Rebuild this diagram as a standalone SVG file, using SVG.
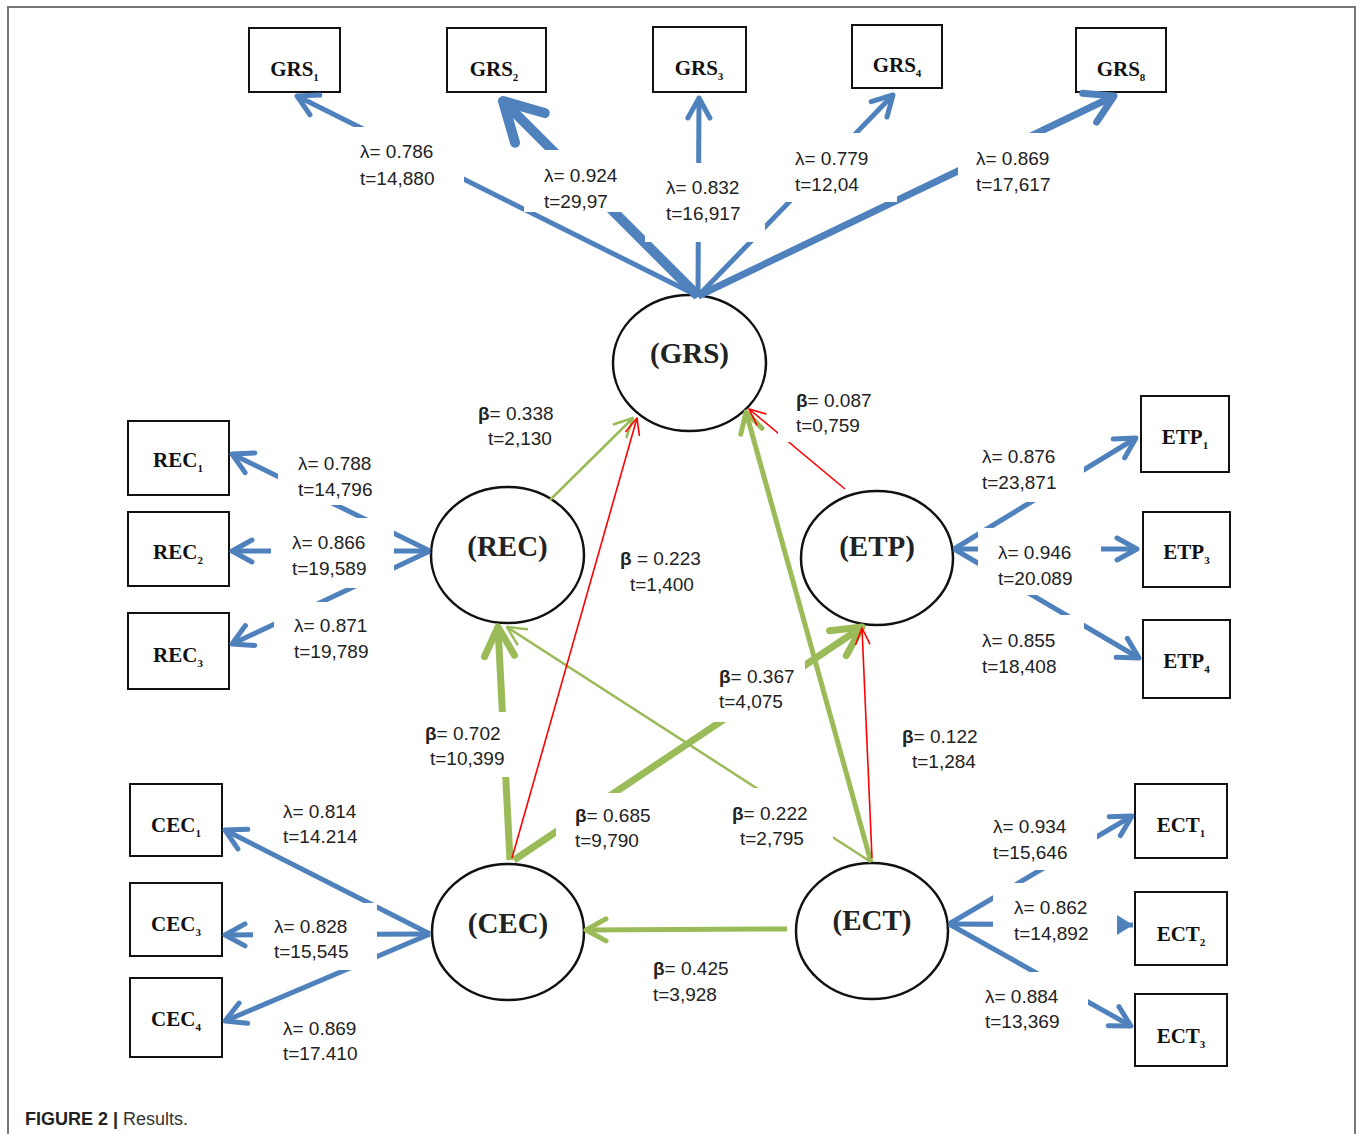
<svg xmlns="http://www.w3.org/2000/svg" width="1357" height="1134" viewBox="0 0 1357 1134">
<style>
.box{fill:#fff;stroke:#111;stroke-width:2}
.lat{fill:#fff;stroke:#111;stroke-width:2.5}
.bt{font-family:"Liberation Serif","Times New Roman",serif;font-weight:bold;font-size:21px;fill:#111;text-anchor:middle}
.bt .s{font-size:11px}
.lt{font-family:"Liberation Serif","Times New Roman",serif;font-weight:bold;font-size:29px;fill:#222;text-anchor:middle}
.lb{fill:none;stroke:#4F81BD}
.lg{fill:none;stroke:#9BBB59}
.lr{fill:none;stroke:#FF0000;stroke-width:1.6}
.bg{fill:#fff}
.tx{font-family:"Liberation Sans",Arial,sans-serif;font-size:19px;fill:#222}
.tx .b{font-weight:bold}
.cap{font-family:"Liberation Sans",Arial,sans-serif;font-size:18px;fill:#333}
</style>
<defs>
<marker id="aB5" markerUnits="userSpaceOnUse" viewBox="-30 -20 40 40" markerWidth="40" markerHeight="40" refX="0" refY="0" orient="auto" overflow="visible">
<path d="M-20,-11 L0,0 L-20,11" fill="none" stroke="#4F81BD" stroke-width="5" stroke-linecap="round" stroke-linejoin="round"/>
</marker>
<marker id="aB8" markerUnits="userSpaceOnUse" viewBox="-40 -25 50 50" markerWidth="50" markerHeight="50" refX="0" refY="0" orient="auto" overflow="visible">
<path d="M-27,-16 L0,0 L-27,16" fill="none" stroke="#4F81BD" stroke-width="7" stroke-linecap="round" stroke-linejoin="round"/>
</marker>
<marker id="aB10" markerUnits="userSpaceOnUse" viewBox="-50 -30 60 60" markerWidth="60" markerHeight="60" refX="0" refY="0" orient="auto" overflow="visible">
<path d="M-38,-21 L0,0 L-38,21" fill="none" stroke="#4F81BD" stroke-width="10" stroke-linecap="round" stroke-linejoin="round"/>
</marker>
<marker id="aBf" markerUnits="userSpaceOnUse" viewBox="-20 -12 24 24" markerWidth="24" markerHeight="24" refX="0" refY="0" orient="auto" overflow="visible">
<path d="M-16,-10 L0,0 L-16,10 Z" fill="#4F81BD"/>
</marker>
<marker id="aG7" markerUnits="userSpaceOnUse" viewBox="-40 -20 50 40" markerWidth="50" markerHeight="40" refX="0" refY="0" orient="auto" overflow="visible">
<path d="M-29,-15 L0,0 L-29,15" fill="none" stroke="#9BBB59" stroke-width="7" stroke-linecap="round" stroke-linejoin="round"/>
</marker>
<marker id="aG5" markerUnits="userSpaceOnUse" viewBox="-30 -15 40 30" markerWidth="40" markerHeight="30" refX="0" refY="0" orient="auto" overflow="visible">
<path d="M-20,-11 L0,0 L-20,11" fill="none" stroke="#9BBB59" stroke-width="5" stroke-linecap="round" stroke-linejoin="round"/>
</marker>
<marker id="aG2" markerUnits="userSpaceOnUse" viewBox="-25 -12 30 24" markerWidth="30" markerHeight="24" refX="0" refY="0" orient="auto" overflow="visible">
<path d="M-18,-9 L0,0 L-18,9" fill="none" stroke="#9BBB59" stroke-width="2.5" stroke-linecap="round" stroke-linejoin="round"/>
</marker>
<marker id="aR" markerUnits="userSpaceOnUse" viewBox="-20 -10 24 20" markerWidth="24" markerHeight="20" refX="0" refY="0" orient="auto" overflow="visible">
<path d="M-16,-7 L0,0 L-16,7" fill="none" stroke="#FF0000" stroke-width="1.6" stroke-linecap="round" stroke-linejoin="round"/>
</marker>
</defs>

<rect width="1357" height="1134" fill="#fff"/>
<path d="M8,1134 V7 H1355 V1134" fill="none" stroke="#777" stroke-width="2"/>

<g id="nodes">
<g id="GRS1"><rect class="box" x="249" y="28" width="91" height="64"/><text class="bt" x="294.5" y="76">GRS<tspan class="s" dy="5">1</tspan></text></g>
<g id="GRS2"><rect class="box" x="447" y="28" width="99" height="64"/><text class="bt" x="494" y="76">GRS<tspan class="s" dy="5">2</tspan></text></g>
<g id="GRS3"><rect class="box" x="653" y="27" width="93" height="65"/><text class="bt" x="699" y="75">GRS<tspan class="s" dy="5">3</tspan></text></g>
<g id="GRS4"><rect class="box" x="852" y="25" width="90" height="63"/><text class="bt" x="897" y="72">GRS<tspan class="s" dy="5">4</tspan></text></g>
<g id="GRS8"><rect class="box" x="1076" y="28" width="90" height="64"/><text class="bt" x="1121" y="76">GRS<tspan class="s" dy="5">8</tspan></text></g>
<g id="REC1"><rect class="box" x="128" y="421" width="101" height="74"/><text class="bt" x="178" y="467">REC<tspan class="s" dy="5">1</tspan></text></g>
<g id="REC2"><rect class="box" x="128" y="512" width="101" height="74"/><text class="bt" x="178" y="559">REC<tspan class="s" dy="5">2</tspan></text></g>
<g id="REC3"><rect class="box" x="128" y="613" width="101" height="76"/><text class="bt" x="178" y="662">REC<tspan class="s" dy="5">3</tspan></text></g>
<g id="CEC1"><rect class="box" x="130" y="784" width="92" height="72"/><text class="bt" x="176" y="832">CEC<tspan class="s" dy="5">1</tspan></text></g>
<g id="CEC3"><rect class="box" x="130" y="883" width="92" height="73"/><text class="bt" x="176" y="931">CEC<tspan class="s" dy="5">3</tspan></text></g>
<g id="CEC4"><rect class="box" x="130" y="978" width="92" height="79"/><text class="bt" x="176" y="1026">CEC<tspan class="s" dy="5">4</tspan></text></g>
<g id="ETP1"><rect class="box" x="1141" y="396" width="88" height="76"/><text class="bt" x="1185" y="444">ETP<tspan class="s" dy="5">1</tspan></text></g>
<g id="ETP3"><rect class="box" x="1143" y="512" width="87" height="75"/><text class="bt" x="1186.5" y="559">ETP<tspan class="s" dy="5">3</tspan></text></g>
<g id="ETP4"><rect class="box" x="1143" y="620" width="87" height="78"/><text class="bt" x="1186.5" y="668">ETP<tspan class="s" dy="5">4</tspan></text></g>
<g id="ECT1"><rect class="box" x="1135" y="784" width="92" height="74"/><text class="bt" x="1181" y="832">ECT<tspan class="s" dy="5">1</tspan></text></g>
<g id="ECT2"><rect class="box" x="1135" y="892" width="92" height="73"/><text class="bt" x="1181" y="941">ECT<tspan class="s" dy="5">2</tspan></text></g>
<g id="ECT3"><rect class="box" x="1135" y="994" width="92" height="72"/><text class="bt" x="1181" y="1043">ECT<tspan class="s" dy="5">3</tspan></text></g>
<g id="GRS"><ellipse class="lat" cx="689.5" cy="363" rx="76.5" ry="68"/><text class="lt" x="689.5" y="363">(GRS)</text></g>
<g id="REC"><ellipse class="lat" cx="507.5" cy="555" rx="76.5" ry="68"/><text class="lt" x="507.5" y="556">(REC)</text></g>
<g id="ETP"><ellipse class="lat" cx="877" cy="558" rx="76" ry="67"/><text class="lt" x="877" y="556">(ETP)</text></g>
<g id="CEC"><ellipse class="lat" cx="508" cy="932" rx="76" ry="68"/><text class="lt" x="508" y="933">(CEC)</text></g>
<g id="ECT"><ellipse class="lat" cx="872" cy="931" rx="76" ry="68"/><text class="lt" x="872" y="930">(ECT)</text></g>
</g>

<g id="connectors">
<line class="lb" stroke-width="5" x1="698" y1="296" x2="297" y2="96" marker-end="url(#aB5)"/>
<line class="lb" stroke-width="10" x1="698" y1="296" x2="503" y2="101" marker-end="url(#aB10)"/>
<line class="lb" stroke-width="5" x1="698" y1="296" x2="699" y2="98" marker-end="url(#aB5)"/>
<line class="lb" stroke-width="5" x1="698" y1="296" x2="893" y2="95" marker-end="url(#aB5)"/>
<line class="lb" stroke-width="7" x1="698" y1="296" x2="1114" y2="96" marker-end="url(#aB8)"/>
<line class="lb" stroke-width="5" x1="430" y1="551" x2="232" y2="454" marker-end="url(#aB5)"/>
<line class="lb" stroke-width="5" x1="430" y1="551" x2="232" y2="551" marker-end="url(#aB5)"/>
<line class="lb" stroke-width="5" x1="430" y1="551" x2="232" y2="644" marker-end="url(#aB5)"/>
<line class="lb" stroke-width="5" x1="954" y1="549" x2="1136" y2="438" marker-end="url(#aB5)"/>
<line class="lb" stroke-width="5" x1="954" y1="549" x2="1137" y2="549" marker-end="url(#aB5)"/>
<line class="lb" stroke-width="5" x1="954" y1="549" x2="1139" y2="658" marker-end="url(#aB5)"/>
<line class="lb" stroke-width="5" x1="430" y1="934" x2="225" y2="830" marker-end="url(#aB5)"/>
<line class="lb" stroke-width="5" x1="430" y1="934" x2="225" y2="935" marker-end="url(#aB5)"/>
<line class="lb" stroke-width="5" x1="430" y1="934" x2="225" y2="1021" marker-end="url(#aB5)"/>
<line class="lb" stroke-width="5" x1="949" y1="924" x2="1132" y2="816" marker-end="url(#aB5)"/>
<line class="lb" stroke-width="5" x1="949" y1="924" x2="1133" y2="925" marker-end="url(#aBf)"/>
<line class="lb" stroke-width="5" x1="949" y1="924" x2="1131" y2="1026" marker-end="url(#aB5)"/>
<line class="lg" stroke-width="2.5" x1="550" y1="500" x2="633" y2="418" marker-end="url(#aG2)"/>
<line class="lg" stroke-width="7" x1="510" y1="860" x2="498" y2="627" marker-end="url(#aG7)"/>
<line class="lg" stroke-width="7" x1="514" y1="860" x2="862" y2="627" marker-end="url(#aG7)"/>
<line class="lg" stroke-width="5" x1="871" y1="862" x2="746" y2="412" marker-end="url(#aG5)"/>
<line class="lg" stroke-width="2.5" x1="871" y1="862" x2="507" y2="627" marker-end="url(#aG2)"/>
<line class="lg" stroke-width="5" x1="787" y1="929" x2="586" y2="930" marker-end="url(#aG5)"/>
<line class="lr" x1="512" y1="858" x2="637" y2="418" marker-end="url(#aR)"/>
<line class="lr" x1="845" y1="489" x2="749" y2="409" marker-end="url(#aR)"/>
<line class="lr" x1="872" y1="858" x2="862" y2="628" marker-end="url(#aR)"/>
</g>

<g id="labels">
<g><rect class="bg" x="340" y="127" width="124" height="73"/><text class="tx" x="360" y="158">λ= 0.786</text><text class="tx" x="360" y="185">t=14,880</text></g>
<g><rect class="bg" x="524" y="150" width="121" height="62"/><text class="tx" x="544" y="182">λ= 0.924</text><text class="tx" x="544" y="208">t=29,97</text></g>
<g><rect class="bg" x="645" y="163" width="120" height="79"/><text class="tx" x="666" y="194">λ= 0.832</text><text class="tx" x="666" y="220">t=16,917</text></g>
<g><rect class="bg" x="765" y="133" width="132" height="69"/><text class="tx" x="795" y="165">λ= 0.779</text><text class="tx" x="795" y="191">t=12,04</text></g>
<g><rect class="bg" x="958" y="133" width="127" height="72"/><text class="tx" x="976" y="165">λ= 0.869</text><text class="tx" x="976" y="191">t=17,617</text></g>
<g><rect class="bg" x="278" y="440" width="117" height="65"/><text class="tx" x="298" y="470">λ= 0.788</text><text class="tx" x="298" y="496">t=14,796</text></g>
<g><rect class="bg" x="271" y="518" width="123" height="70"/><text class="tx" x="292" y="549">λ= 0.866</text><text class="tx" x="292" y="575">t=19,589</text></g>
<g><rect class="bg" x="274" y="602" width="121" height="66"/><text class="tx" x="294" y="632">λ= 0.871</text><text class="tx" x="294" y="658">t=19,789</text></g>
<g><rect class="bg" x="962" y="440" width="122" height="62"/><text class="tx" x="982" y="463">λ= 0.876</text><text class="tx" x="982" y="489">t=23,871</text></g>
<g><rect class="bg" x="978" y="528" width="123" height="67"/><text class="tx" x="998" y="559">λ= 0.946</text><text class="tx" x="998" y="585">t=20.089</text></g>
<g><rect class="bg" x="962" y="615" width="122" height="65"/><text class="tx" x="982" y="647">λ= 0.855</text><text class="tx" x="982" y="673">t=18,408</text></g>
<g><text class="tx" x="283" y="818">λ= 0.814</text><text class="tx" x="283" y="843">t=14.214</text></g>
<g><rect class="bg" x="253" y="903" width="124" height="67"/><text class="tx" x="274" y="933">λ= 0.828</text><text class="tx" x="274" y="958">t=15,545</text></g>
<g><text class="tx" x="283" y="1035">λ= 0.869</text><text class="tx" x="283" y="1060">t=17.410</text></g>
<g><rect class="bg" x="985" y="800" width="112" height="70"/><text class="tx" x="993" y="833">λ= 0.934</text><text class="tx" x="993" y="859">t=15,646</text></g>
<g><rect class="bg" x="993" y="883" width="124" height="63"/><text class="tx" x="1014" y="914">λ= 0.862</text><text class="tx" x="1014" y="940">t=14,892</text></g>
<g><rect class="bg" x="975" y="972" width="113" height="68"/><text class="tx" x="985" y="1003">λ= 0.884</text><text class="tx" x="985" y="1028">t=13,369</text></g>
<g><text class="tx" x="478" y="420"><tspan class="b">β</tspan>= 0.338</text><text class="tx" x="488" y="445">t=2,130</text></g>
<g><rect class="bg" x="778" y="385" width="97" height="57"/><text class="tx" x="796" y="407"><tspan class="b">β</tspan>= 0.087</text><text class="tx" x="796" y="432">t=0,759</text></g>
<g><text class="tx" x="620" y="565"><tspan class="b">β</tspan> = 0.223</text><text class="tx" x="630" y="591">t=1,400</text></g>
<g><rect class="bg" x="418" y="712" width="94" height="65"/><text class="tx" x="425" y="740"><tspan class="b">β</tspan>= 0.702</text><text class="tx" x="430" y="765">t=10,399</text></g>
<g><rect class="bg" x="712" y="660" width="93" height="62"/><text class="tx" x="719" y="683"><tspan class="b">β</tspan>= 0.367</text><text class="tx" x="719" y="708">t=4,075</text></g>
<g><rect class="bg" x="556" y="793" width="99" height="67"/><text class="tx" x="575" y="822"><tspan class="b">β</tspan>= 0.685</text><text class="tx" x="575" y="847">t=9,790</text></g>
<g><rect class="bg" x="730" y="788" width="103" height="64"/><text class="tx" x="732" y="820"><tspan class="b">β</tspan>= 0.222</text><text class="tx" x="740" y="845">t=2,795</text></g>
<g><text class="tx" x="902" y="743"><tspan class="b">β</tspan>= 0.122</text><text class="tx" x="912" y="768">t=1,284</text></g>
<g><text class="tx" x="653" y="975"><tspan class="b">β</tspan>= 0.425</text><text class="tx" x="653" y="1001">t=3,928</text></g>
</g>

<text class="cap" x="25" y="1125"><tspan font-weight="bold" fill="#222">FIGURE 2 |</tspan> Results.</text>
</svg>
